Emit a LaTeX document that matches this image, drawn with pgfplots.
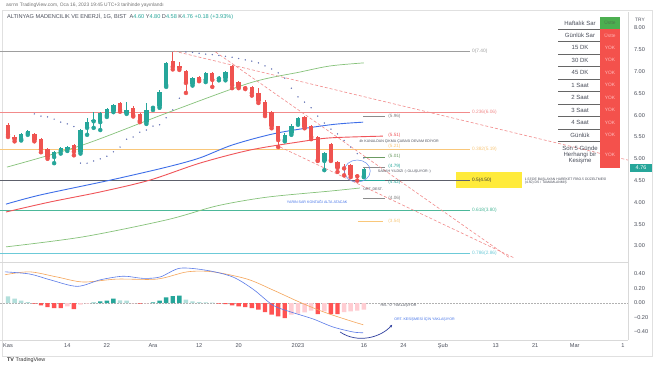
\documentclass[border=0pt]{standalone}
\usepackage{pgfplots}
\pgfplotsset{compat=1.18}
\usepackage{pgfplotstable}
\usetikzlibrary{arrows.meta}
\usepackage{fontspec}
\setmainfont{Liberation Sans}
\newcommand\fs[1]{\fontsize{#1}{#1}\selectfont}
\definecolor{tvg}{HTML}{26A69A}
\definecolor{tvr}{HTML}{EF5350}
\definecolor{tvlg}{HTML}{B2DFDB}
\definecolor{tvpk}{HTML}{FFCDD2}
\definecolor{hred}{HTML}{FF5252}
\definecolor{maBlue}{HTML}{3F6FE8}
\definecolor{maRed}{HTML}{F0555A}
\definecolor{maGreen}{HTML}{86C27A}
\definecolor{fibPink}{HTML}{F28B8B}
\definecolor{fibOr}{HTML}{F9C77A}
\definecolor{fibGray}{HTML}{9E9E9E}
\definecolor{fibDark}{HTML}{5D606B}
\definecolor{fibTeal}{HTML}{4CB89A}
\definecolor{fibCyan}{HTML}{6CCAD8}
\definecolor{sarc}{HTML}{6A78B8}
\definecolor{macdB}{HTML}{5B7BE8}
\definecolor{macdO}{HTML}{F5A55A}
\definecolor{tyel}{HTML}{FFEB3B}
\definecolor{cellG}{HTML}{4CAF50}
\definecolor{cellR}{HTML}{F4514C}
\definecolor{txt}{HTML}{4A4E5A}
\definecolor{navyA}{HTML}{2F3F9E}

\pgfplotstableread{
i o h l c
2 5.45 5.60 5.42 5.57
3 5.59 5.66 5.55 5.64
7 5.04 5.18 4.90 5.16
8 5.18 5.28 5.12 5.25
9 5.22 5.30 5.18 5.27
11 5.16 5.68 5.12 5.66
12 5.71 5.94 5.55 5.84
13 5.86 6.07 5.71 5.88
14 5.84 6.07 5.66 6.05
15 6.00 6.17 5.96 6.14
16 6.10 6.26 6.07 6.23
18 6.05 6.30 6.03 6.12
21 5.84 6.28 5.80 6.12
22 6.17 6.22 6.12 6.19
23 6.21 6.58 6.17 6.53
24 6.69 7.22 6.65 7.20
28 6.72 6.88 6.68 6.85
30 6.81 7.00 6.76 6.97
32 6.84 6.90 6.80 6.86
33 6.85 7.02 6.80 6.99
42 5.43 5.60 5.40 5.55
43 5.59 5.80 5.55 5.75
44 5.82 5.96 5.78 5.94
48 4.95 5.15 4.74 5.13
54 4.60 4.80 4.58 4.76
}\greentab
\pgfplotstableread{
i o h l c
0 5.78 5.82 5.50 5.55
1 5.50 5.55 5.40 5.45
4 5.57 5.60 5.40 5.43
5 5.45 5.47 5.15 5.22
6 5.22 5.25 5.00 5.04
10 5.32 5.34 5.08 5.16
17 6.28 6.30 6.08 6.12
19 6.17 6.22 5.97 6.00
20 6.03 6.05 5.84 5.87
25 7.24 7.45 7.05 7.11
26 7.13 7.22 7.04 7.08
27 7.01 7.04 6.51 6.74
29 6.88 6.90 6.78 6.81
31 6.97 7.00 6.65 6.81
34 7.13 7.15 6.62 6.69
35 6.76 6.78 6.62 6.65
36 6.65 6.67 6.60 6.62
37 6.65 6.67 6.45 6.51
38 6.51 6.62 6.28 6.33
39 6.31 6.35 5.98 6.02
40 6.07 6.10 5.70 5.75
41 5.75 5.76 5.27 5.43
45 5.96 5.98 5.70 5.73
46 5.75 5.77 5.45 5.50
47 5.50 5.52 4.95 4.97
49 5.34 5.36 4.95 4.97
50 4.93 4.95 4.70 4.79
51 4.80 4.88 4.62 4.78
52 4.86 4.88 4.58 4.63
53 4.62 4.64 4.50 4.60
}\redtab

\begin{document}
\begin{tikzpicture}[x=1pt,y=1pt]
\useasboundingbox (0pt,0pt) rectangle (654pt,366pt);
\fill[white] (0pt,0pt) rectangle (654pt,366pt);
\draw[black!12] (2pt,10pt) rectangle (652pt,356pt);
\node[anchor=west,inner sep=0,text=black!55] at (6pt,361pt) {\fs{4.9}asrnn TradingView.com, Oca 16, 2023 19:45 UTC+3 tarihinde yayınlandı};
\node[anchor=west,inner sep=0,text=txt] at (7pt,349pt) {\fs{5.6}ALTINYAG MADENCILIK VE ENERJİ, 1G, BIST\ \ A\textcolor{tvg}{4.60}\ Y\textcolor{tvg}{4.80}\ D\textcolor{tvg}{4.58}\ K\textcolor{tvg}{4.76}\ \textcolor{tvg}{+0.18 (+3.93\%)}};

% ===== main price pane =====
\begin{axis}[at={(0pt,104pt)}, anchor=south west, scale only axis,
  width=628pt, height=250pt,
  xmin=-1.214, xmax=94.08, ymin=2.633, ymax=8.367,
  axis x line*=bottom, axis y line*=right,
  axis line style={draw=black!15,-},
  xtick=\empty, ytick={3,3.5,4,4.5,5,5.5,6,6.5,7,7.5,8},
  major tick length=0pt,
  /pgf/number format/assume math mode=true,
  yticklabel={\pgfmathprintnumber[fixed,fixed zerofill,precision=2]{\tick}},
  yticklabel style={font=\fs{5.6}, text=txt, anchor=west, xshift=2.5pt},
]
\fill[tyel] (axis cs:68.0,4.33) rectangle (axis cs:78.0,4.70);
\addplot[fibGray, line width=0.6pt] coordinates {(-1.2,7.47) (70.1,7.47)};
\addplot[fibPink, line width=0.6pt] coordinates {(-1.2,6.07) (70.1,6.07)};
\addplot[fibOr, line width=0.9pt] coordinates {(-1.2,5.22) (70.1,5.22)};
\addplot[fibDark, line width=0.8pt] coordinates {(-1.2,4.51) (70.1,4.51)};
\addplot[fibTeal, line width=0.6pt] coordinates {(-1.2,3.83) (70.1,3.83)};
\addplot[fibCyan, line width=0.6pt] coordinates {(-1.2,2.84) (70.1,2.84)};
\node[anchor=west,inner sep=0,text=fibGray] at (axis cs:70.4,7.47) {\fs{4.8}0(7.40)};
\node[anchor=west,inner sep=0,text=fibPink] at (axis cs:70.4,6.07) {\fs{4.8}0.236(6.06)};
\node[anchor=west,inner sep=0,text=fibOr] at (axis cs:70.4,5.22) {\fs{4.8}0.382(5.19)};
\node[anchor=west,inner sep=0,text=black!80] at (axis cs:70.4,4.51) {\fs{4.8}0.5(4.50)};
\node[anchor=west,inner sep=0,text=fibTeal] at (axis cs:70.4,3.83) {\fs{4.8}0.618(3.80)};
\node[anchor=west,inner sep=0,text=fibCyan] at (axis cs:70.4,2.84) {\fs{4.8}0.786(2.86)};
\node[anchor=west,inner sep=0,text=txt,align=left,font=\fs{3.4}] at (axis cs:78.4,4.50) {1.53'DE BAŞLAYAN HAREKET FİBO.5 DÜZELTMESİ\\(4.50) DS / TAMAMLANMIŞ};
\addplot[black!45, line width=0.5pt] coordinates {(53.9,5.98) (57.2,5.98)};
\addplot[maGreen!80!black, line width=0.5pt] coordinates {(53.9,5.04) (57.2,5.04)};
\addplot[black!45, line width=0.5pt] coordinates {(53.9,4.81) (57.2,4.81)};
\addplot[tvg, line width=0.8pt] coordinates {(52.7,4.51) (57.2,4.51)};
\addplot[black!45, line width=0.5pt] coordinates {(53.9,4.10) (57.2,4.10)};
\addplot[fibOr, line width=0.6pt] coordinates {(53.1,3.57) (56.9,3.57)};
\node[anchor=west,inner sep=0,text=black!50] at (axis cs:57.7,5.98) {\fs{4.6}(5.96)};
\node[anchor=west,inner sep=0,text=maRed] at (axis cs:57.7,5.53) {\fs{4.6}(5.51)};
\node[anchor=west,inner sep=0,text=fibOr] at (axis cs:57.7,5.28) {\fs{4.6}(5.21)};
\node[anchor=west,inner sep=0,text=maGreen!80!black] at (axis cs:57.7,5.05) {\fs{4.6}(5.01)};
\node[anchor=west,inner sep=0,text=tvg] at (axis cs:57.7,4.82) {\fs{4.6}(4.79)};
\node[anchor=west,inner sep=0,text=tvg] at (axis cs:57.7,4.47) {\fs{4.6}(4.42)};
\node[anchor=west,inner sep=0,text=black!50] at (axis cs:57.7,4.10) {\fs{4.6}(4.06)};
\node[anchor=west,inner sep=0,text=fibOr] at (axis cs:57.7,3.57) {\fs{4.6}(3.54)};
\addplot[fibPink, densely dashed, line width=0.6pt] coordinates {(25.2,7.47) (94.1,4.97)};
\addplot[fibPink, densely dashed, line width=0.6pt] coordinates {(31.5,7.45) (76.2,2.72)};
\addplot[fibPink, densely dashed, line width=0.6pt] coordinates {(41.3,5.27) (76.9,2.72)};
\addplot[maGreen, line width=0.7pt, smooth] coordinates {(-0.3,2.98) (11.4,3.21) (24.1,3.60) (31.7,3.92) (39.3,4.12) (48.9,4.26) (53.4,4.33)};
\addplot[maRed, line width=0.9pt, smooth] coordinates {(-0.3,3.78) (6.4,4.01) (14.0,4.24) (21.5,4.51) (29.1,4.90) (36.7,5.20) (44.3,5.39) (48.9,5.48) (56.9,5.52)};
\addplot[maBlue, line width=0.9pt, smooth] coordinates {(-0.3,3.96) (4.9,4.17) (15.5,4.51) (24.1,4.81) (29.1,5.02) (34.1,5.32) (40.8,5.59) (48.9,5.78) (53.9,5.84)};
\addplot[maGreen, line width=0.7pt, smooth] coordinates {(-0.15,4.81) (11.4,5.32) (24.1,6.05) (36.7,6.74) (44.3,6.99) (48.9,7.13) (54.0,7.20)};
\addplot[only marks, mark=*, mark size=0.45pt, sarc] coordinates {
(4,6.03)(5,5.98)(6,5.96)(7,5.91)(8,5.84)(9,5.80)(10,5.74)
(11,4.90)(12,4.90)(13,4.95)(14,5.00)(15,5.06)(16,5.16)(17,5.27)(18,5.45)(19,5.50)(20,5.61)(21,5.66)(22,5.75)(23,5.78)(24,5.94)(25,6.12)(26,6.39)
(27,7.45)(28,7.44)(29,7.42)(30,7.40)(31,7.39)(32,7.37)(33,7.35)(34,7.33)(35,7.30)(36,7.27)(37,7.24)(38,7.20)(39,7.13)(40,7.06)(41,6.97)(42,6.85)(43,6.62)(44,6.42)(45,6.30)(46,6.17)(47,5.98)(48,5.82)(49,5.68)(50,5.57)(51,5.42)(52,5.27)(53,5.12)(54,5.02)};
\addplot[tvg, draw=tvg, only marks, mark=none, error bars/.cd, y dir=plus, y explicit, error mark=none, error bar style={color=tvg, line width=0.6pt}] table[x=i, y=l, y error plus expr=\thisrow{h}-\thisrow{l}] {\greentab};
\addplot[tvr, draw=tvr, only marks, mark=none, error bars/.cd, y dir=plus, y explicit, error mark=none, error bar style={color=tvr, line width=0.6pt}] table[x=i, y=l, y error plus expr=\thisrow{h}-\thisrow{l}] {\redtab};
\addplot[tvg, draw=tvg, only marks, mark=none, error bars/.cd, y dir=plus, y explicit, error mark=none, error bar style={color=tvg, line width=4.4pt}] table[x=i, y=o, y error plus expr={max(\thisrow{c}-\thisrow{o},0.02)}] {\greentab};
\addplot[tvr, draw=tvr, only marks, mark=none, error bars/.cd, y dir=plus, y explicit, error mark=none, error bar style={color=tvr, line width=4.4pt}] table[x=i, y=c, y error plus expr={max(\thisrow{o}-\thisrow{c},0.02)}] {\redtab};
\draw[maBlue!80, line width=0.5pt] (axis cs:53.0,4.72) ellipse [x radius=13pt, y radius=11pt];
\node[anchor=west,inner sep=0,text=txt] at (axis cs:53.3,5.39) {\fs{3.6}4h KANALDAN ÇIKMA ÇABASI DEVAM EDİYOR};
\node[anchor=west,inner sep=0,text=txt] at (axis cs:56.1,4.70) {\fs{3.6}SABAH YILDIZI :) OLUŞUYOR :)};
\node[anchor=west,inner sep=0,text=txt] at (axis cs:53.9,4.31) {\fs{3.6}ORT. DEST.};
\node[anchor=west,inner sep=0,text=maBlue] at (axis cs:42.3,4.01) {\fs{3.6}YARIN SAR KONTAĞI ALTA ATACAK};
\end{axis}

% right table
\fill[cellG] (600pt,349pt) rectangle (620pt,337pt);
\fill[cellR] (600pt,337pt) rectangle (620pt,198pt);
\foreach \yy in {337,324.5,312,299.5,287,274.5,262,249.5,237,224.5}{\draw[black!60,line width=0.5pt] (558pt,\yy pt) -- (600pt,\yy pt);}
\foreach \yy/\lab in {343/Haftalık Sar,330.75/Günlük Sar,318.25/15 DK,305.75/30 DK,293.25/45 DK,280.75/1 Saat,268.25/2 Saat,255.75/3 Saat,243.25/4 Saat,230.75/Günlük}{\node[text=txt,inner sep=0] at (580pt,\yy pt) {\fs{6}\lab};}
\node[text=txt,inner sep=0,align=center,font=\fs{6}] at (580pt,211.5pt) {Son 5 Günde\\Herhangi bir\\Kesişme};
\node[text=green!25!black!70,inner sep=0] at (610pt,343pt) {\fs{4.8}Üstte};
\node[text=red!30!white,inner sep=0] at (610pt,330.75pt) {\fs{4.8}Üstte};
\foreach \yy in {318.25,305.75,293.25,280.75,268.25,255.75,243.25,230.75,211.5}{\node[text=red!25!white,inner sep=0] at (610pt,\yy pt) {\fs{4.8}YOK};}
\node[text=txt,inner sep=0] at (640pt,346pt) {\fs{4.8}TRY};
\fill[tvg] (630pt,202pt) rectangle (652pt,194pt);
\node[text=white,inner sep=0] at (641pt,198pt) {\fs{5.4}4.76};

% ===== MACD pane =====
\begin{axis}[at={(0pt,26pt)}, anchor=south west, scale only axis,
  width=628pt, height=78pt,
  xmin=-1.214, xmax=94.08, ymin=-0.51, ymax=0.566,
  axis x line*=bottom, axis y line*=right,
  axis line style={draw=black!15,-},
  major tick length=0pt,
  ytick={-0.4,-0.2,0,0.2,0.4},
  yticklabels={−0.40,−0.20,0.00,0.20,0.40},
  yticklabel style={font=\fs{5.6}, text=txt, anchor=west, xshift=2.5pt},
  xtick={0,9,15,22,29,35,44,54,60,66,74,80,86,93.3},
  xticklabels={Kas,14,22,Ara,12,20,2023,16,24,Şub,13,21,Mar,1},
  xticklabel style={font=\fs{5.6}, text=txt, yshift=0pt},
]
\addplot[black!30, dash pattern=on 1.5pt off 1.5pt, line width=0.4pt] coordinates {(-1.2,0) (94,0)};
\addplot[ybar, bar width=4.4pt, bar shift=0pt, fill=tvg, draw=none] coordinates {(13,0.004)(14,0.023)(15,0.032)(16,0.060)(22,0.009)(23,0.032)(24,0.078)(25,0.096)(26,0.101)};
\addplot[ybar, bar width=4.4pt, bar shift=0pt, fill=tvlg, draw=none] coordinates {(0,0.092)(1,0.060)(2,0.032)(3,0.014)(17,0.037)(18,0.032)(27,0.046)(28,0.023)(29,0.014)(30,0.009)(31,0.005)};
\addplot[ybar, bar width=4.4pt, bar shift=0pt, fill=hred, draw=none] coordinates {(4,-0.009)(5,-0.032)(6,-0.055)(7,-0.069)(8,-0.069)(10,-0.083)(20,-0.009)(32,-0.009)(33,-0.014)(34,-0.032)(35,-0.046)(36,-0.055)(37,-0.069)(38,-0.092)(39,-0.124)(40,-0.161)(41,-0.184)(42,-0.207)(47,-0.152)(49,-0.152)(50,-0.152)};
\addplot[ybar, bar width=4.4pt, bar shift=0pt, fill=tvpk, draw=none] coordinates {(9,-0.046)(11,-0.023)(12,-0.009)(19,-0.005)(21,-0.005)(43,-0.161)(44,-0.147)(45,-0.129)(46,-0.106)(48,-0.115)(51,-0.124)(52,-0.115)(53,-0.106)(54,-0.092)};
\addplot[macdO, line width=0.6pt, smooth] coordinates {(-0.46,0.39)(3.3,0.43)(7.4,0.36)(11.4,0.29)(16.5,0.33)(22.6,0.33)(27.2,0.43)(31.1,0.43)(36.3,0.33)(40.2,0.18)(44.3,0.01)(47.8,-0.12)(51.4,-0.23)(53.9,-0.30)};
\addplot[macdB, line width=0.6pt, smooth] coordinates {(-0.46,0.43)(3.3,0.40)(6.4,0.32)(10.5,0.23)(14.0,0.32)(17.5,0.37)(20.5,0.34)(23.1,0.36)(26.1,0.48)(30.2,0.45)(34.1,0.36)(37.2,0.19)(40.2,-0.03)(42.8,-0.12)(46.3,-0.22)(49.3,-0.33)(52.4,-0.40)(53.9,-0.41)};
\draw[navyA, line width=0.7pt, -{Stealth[length=3pt,width=2.5pt]}] (axis cs:50.4,-0.40) .. controls (axis cs:53.0,-0.56) and (axis cs:56.5,-0.48) .. (axis cs:58.3,-0.30);
\node[anchor=west,inner sep=0,text=txt] at (axis cs:56.5,-0.03) {\fs{3.6}HİS. "0" YAKLAŞIYOR};
\node[anchor=west,inner sep=0,text=maBlue] at (axis cs:58.6,-0.23) {\fs{3.6}ORT. KESİŞMESİ İÇİN YAKLAŞIYOR};
\end{axis}
\node[anchor=west,inner sep=0,text=black!80] at (7pt,6pt) {\fs{5.4}\textbf{TV}\ TradingView};
\end{tikzpicture}
\end{document}
